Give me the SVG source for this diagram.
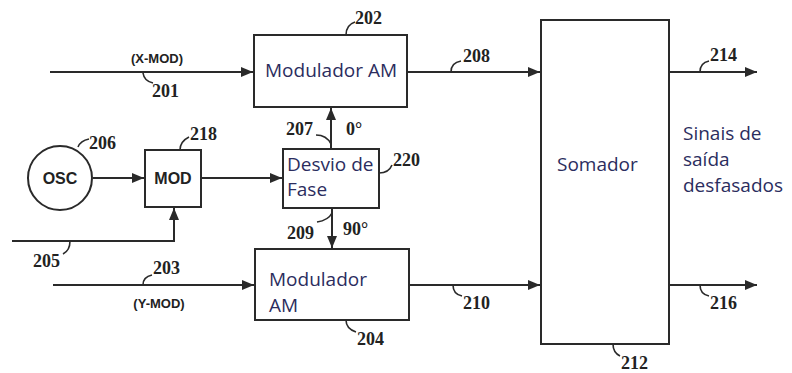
<svg xmlns="http://www.w3.org/2000/svg" width="792" height="373" viewBox="0 0 792 373">
<style>
.box{fill:#fff;stroke:#2a2a2a;stroke-width:2}
.ln{fill:none;stroke:#2a2a2a;stroke-width:2}
.ld{fill:none;stroke:#2a2a2a;stroke-width:1.6}
.num{font-family:"Liberation Serif",serif;font-weight:bold;font-size:18px;fill:#222}
.lbl{font-family:"Open Sans","Noto Sans",sans-serif;font-size:19px;fill:#2b2d5e}
.bs{font-family:"Liberation Sans",Arial,sans-serif;font-weight:bold;fill:#222}
</style>
<defs>
<marker id="ah" viewBox="0 0 12 10" refX="12" refY="5" markerWidth="12" markerHeight="10" markerUnits="userSpaceOnUse" orient="auto">
<path d="M0,0 L12,5 L0,10 Z" fill="#2a2a2a"/>
</marker>
</defs>
<rect width="792" height="373" fill="#fff"/>
<g id="connectors">
<path class="ln" d="M50,72 H253" marker-end="url(#ah)"/>
<path class="ln" d="M407,72 H540" marker-end="url(#ah)"/>
<path class="ln" d="M669,72 H757" marker-end="url(#ah)"/>
<path class="ln" d="M93,178 H144" marker-end="url(#ah)"/>
<path class="ln" d="M201,178 H282" marker-end="url(#ah)"/>
<path class="ln" d="M12,241 H174 V208" marker-end="url(#ah)"/>
<path class="ln" d="M331,149 V108" marker-end="url(#ah)"/>
<path class="ln" d="M332,208 V248" marker-end="url(#ah)"/>
<path class="ln" d="M53,285 H254" marker-end="url(#ah)"/>
<path class="ln" d="M409,285 H540" marker-end="url(#ah)"/>
<path class="ln" d="M669,285 H757" marker-end="url(#ah)"/>
<path class="ld" d="M143,73 C144,80 148,82 153,83"/>
<path class="ld" d="M346,35 C346,28 349,24 355,22"/>
<path class="ld" d="M451,72 C451,65 455,62 461,61"/>
<path class="ld" d="M700,72 C700,65 704,62 709,61"/>
<path class="ld" d="M78,147 C80,142 84,140 89,139"/>
<path class="ld" d="M180,150 C180,144 183,140 189,137"/>
<path class="ld" d="M379,173 C386,173 390,170 392,165"/>
<path class="ld" d="M331,144 C328,138 323,135 316,135"/>
<path class="ld" d="M332,213 C329,219 324,221 317,222"/>
<path class="ld" d="M70,241 C70,248 67,252 63,254"/>
<path class="ld" d="M143,285 C143,279 147,276 152,275"/>
<path class="ld" d="M453,285 C453,292 457,295 462,296"/>
<path class="ld" d="M700,285 C700,292 704,295 709,296"/>
<path class="ld" d="M346,320 C346,327 350,330 356,332"/>
<path class="ld" d="M613,344 C613,351 616,354 620,356"/>
</g>
<g id="n202">
<rect class="box" x="254" y="35" width="153" height="72"/>
<text class="lbl" x="265" y="77">Modulador AM</text>
<text class="num" x="355" y="24">202</text>
</g>
<g id="n204">
<rect class="box" x="255" y="249" width="154" height="71"/>
<text class="lbl" x="269" y="286">Modulador</text>
<text class="lbl" x="269" y="312">AM</text>
<text class="num" x="357" y="345">204</text>
</g>
<g id="n212">
<rect class="box" x="541" y="20" width="128" height="324"/>
<text class="lbl" x="557" y="171">Somador</text>
<text class="num" x="621" y="369">212</text>
</g>
<g id="n206">
<circle class="box" cx="60" cy="178" r="32"/>
<text class="bs" x="60" y="184" font-size="16" text-anchor="middle">OSC</text>
<text class="num" x="89" y="149">206</text>
</g>
<g id="n218">
<rect class="box" x="145" y="150" width="56" height="57"/>
<text class="bs" x="173" y="184" font-size="16" text-anchor="middle">MOD</text>
<text class="num" x="190" y="140">218</text>
</g>
<g id="n220">
<rect class="box" x="283" y="149" width="96" height="59"/>
<text class="lbl" x="287" y="171">Desvio de</text>
<text class="lbl" x="287" y="196">Fase</text>
<text class="num" x="393" y="166">220</text>
</g>
<g id="labels">
<text class="bs" x="157" y="63" font-size="13" text-anchor="middle">(X-MOD)</text>
<text class="num" x="152" y="97">201</text>
<text class="num" x="463" y="62">208</text>
<text class="num" x="710" y="61">214</text>
<text class="num" x="286" y="135">207</text>
<text class="num" x="346" y="135">0°</text>
<text class="num" x="287" y="239">209</text>
<text class="num" x="343" y="235">90°</text>
<text class="num" x="33" y="267">205</text>
<text class="num" x="153" y="274">203</text>
<text class="bs" x="159" y="308" font-size="13" text-anchor="middle">(Y-MOD)</text>
<text class="num" x="463" y="309">210</text>
<text class="num" x="710" y="309">216</text>
<text class="lbl" x="683" y="140">Sinais de</text>
<text class="lbl" x="683" y="166">saída</text>
<text class="lbl" x="683" y="192">desfasados</text>
</g>
</svg>
